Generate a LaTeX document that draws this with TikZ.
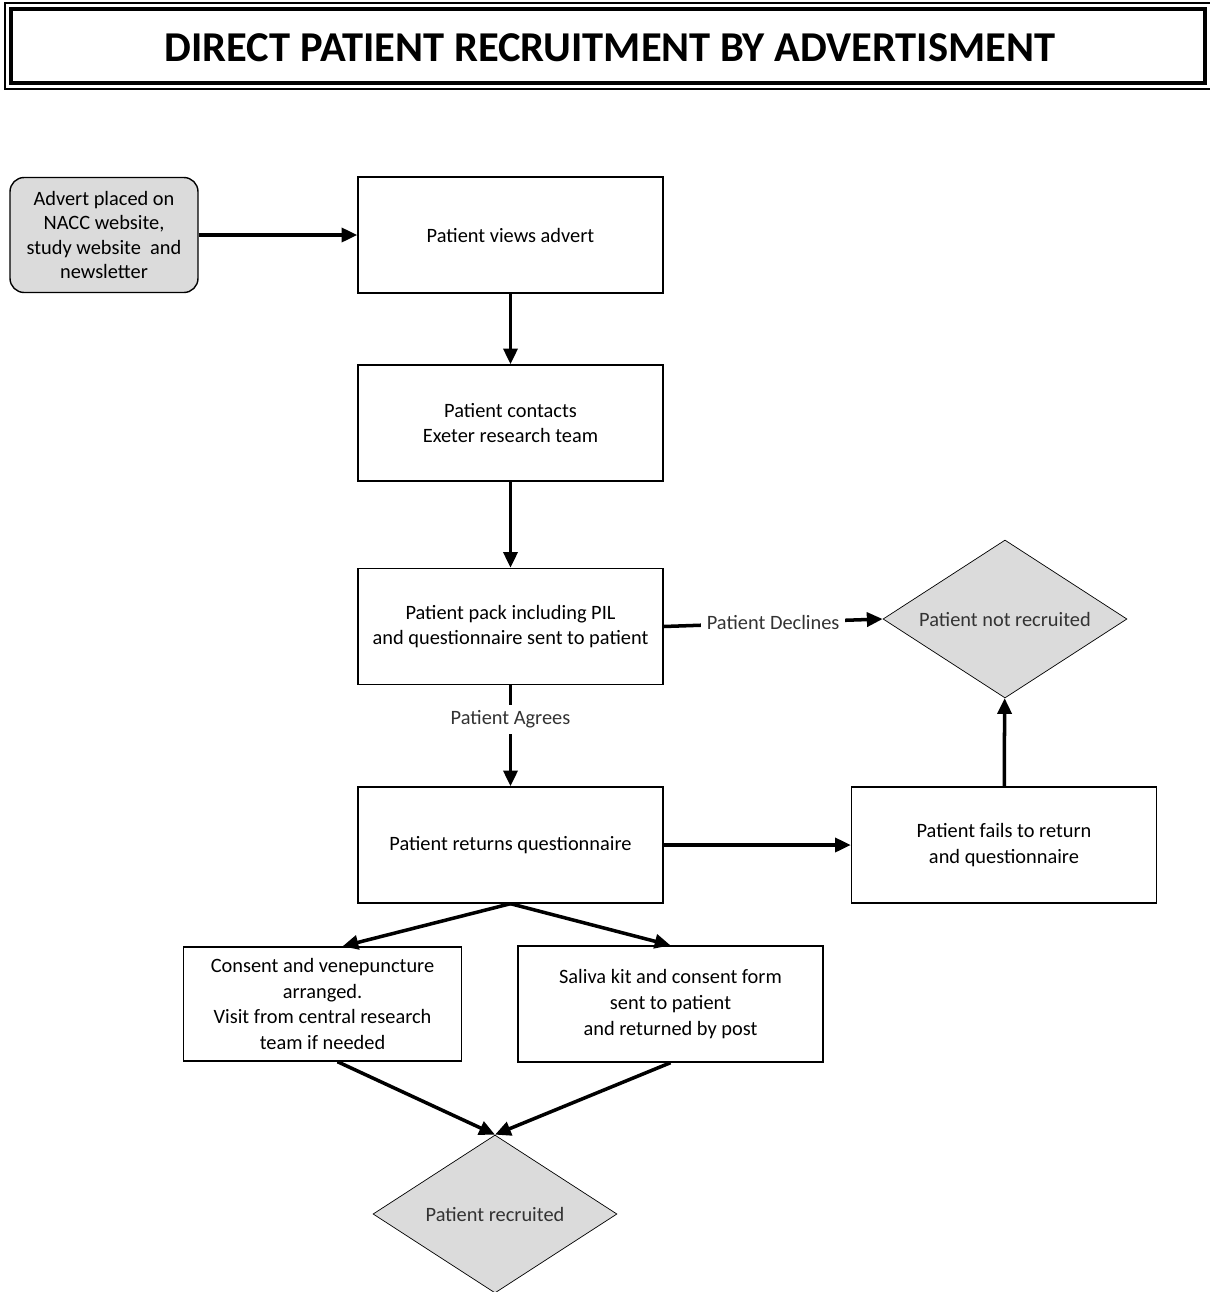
\documentclass[tikz,border=0pt]{standalone}
\usepackage{fontspec}
\setmainfont{Carlito}
\usetikzlibrary{arrows.meta,shapes.geometric}
\begin{document}
\begin{tikzpicture}[x=0.02cm,y=-0.02cm]
  \tikzset{stage/.style={draw, thick, rectangle, minimum width=6.1cm, minimum height=2.32cm, align=center, font=\fontsize{11.6}{14.6}\selectfont},
    sidebox/.style={stage, minimum width=5.55cm, minimum height=2.28cm},
    outcome/.style={draw, diamond, aspect=3, inner sep=0pt, fill=gray!28, minimum width=4.88cm, minimum height=3.16cm, text=black!80, font=\fontsize{11.6}{14}\selectfont},
    flow/.style={line width=2pt, -{Triangle[length=9pt,width=8pt]}},
    tag/.style={fill=white, text=black!80, font=\fontsize{11.6}{14}\selectfont}}
  \useasboundingbox (0,0) rectangle (1210,1292);
  % title
  \draw[line width=1.2pt] (5,3) rectangle (1214,89);
  \draw[line width=1.8pt] (11,9) rectangle (1205,83);
  \node at (610,48) (title) {\fontsize{24.2}{28}\selectfont\bfseries DIRECT PATIENT RECRUITMENT BY ADVERTISMENT};

  \node[draw, thick, rounded corners=8pt, fill=gray!28, minimum width=3.76cm, minimum height=2.3cm, align=center, font=\fontsize{11.6}{13.9}\selectfont] at (104,235) (a_1) {Advert placed on\\NACC website,\\study website\ \ and\\newsletter};
  \node[stage] at (510.5,235) (b_1) {Patient views advert};
  \node[stage] at (510.5,423) (b_2) {Patient contacts\\Exeter research team};
  \node[stage] at (510.5,626.5) (b_3) {Patient pack including PIL\\and questionnaire sent to patient};
  \node[stage] at (510.5,845) (b_4) {Patient returns questionnaire};
  \node[stage] at (1004,845) (b_5) {Patient fails to return\\and questionnaire};
  \node[sidebox] at (322.5,1004) (b_6) {Consent and venepuncture\\arranged.\\Visit from central research\\team if needed};
  \node[stage] at (670.5,1004) (b_7) {Saliva kit and consent form\\sent to patient\\and returned by post};
  \node[outcome] at (1005,619) (d_1) {Patient not recruited};
  \node[outcome] at (495,1214) (d_2) {Patient recruited};

  \draw[flow] (a_1) -- (b_1);
  \draw[flow] (b_1) -- (b_2);
  \draw[flow] (b_2) -- (b_3);
  \draw[flow] (b_3.east) -- node[tag] {Patient Declines} (d_1.west);
  \draw[flow] (b_3) -- node[tag, pos=0.34] {Patient Agrees} (b_4);
  \draw[flow] (b_4) -- (b_5);
  \draw[flow] (b_5) -- (d_1);
  \draw[flow] (b_4.south) -- ([xshift=0.4cm]b_6.north);
  \draw[flow] (b_4.south) -- (b_7.north);
  \draw[flow] ([xshift=0.3cm]b_6.south) -- (d_2.north);
  \draw[flow] (b_7.south) -- (d_2.north);
\end{tikzpicture}
\end{document}
